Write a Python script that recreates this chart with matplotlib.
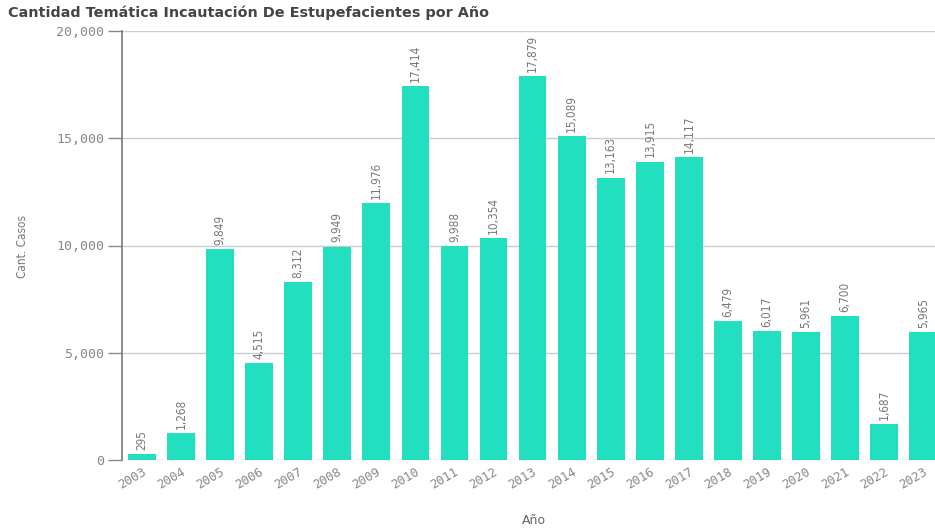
import matplotlib
matplotlib.use("Agg")
import matplotlib.pyplot as plt

years = ["2003","2004","2005","2006","2007","2008","2009","2010","2011","2012","2013",
         "2014","2015","2016","2017","2018","2019","2020","2021","2022","2023"]
values = [295,1268,9849,4515,8312,9949,11976,17414,9988,10354,17879,
          15089,13163,13915,14117,6479,6017,5961,6700,1687,5965]
yticks = [0, 5000, 10000, 15000, 20000]

W, H = 935, 529
fig = plt.figure(figsize=(W/100, H/100), dpi=100)
ax = fig.add_axes([122/W, 1-460/H, (W-122)/W, (460-31)/H])

x = list(range(len(years)))
ax.bar(x, values, width=0.71, color="#22E0BF", zorder=2)

ax.set_xlim(-0.51, 20.3)
ax.set_ylim(0, 20000)
ax.set_yticks(yticks)
ax.set_yticklabels([f"{v:,}" for v in yticks], family="DejaVu Sans Mono", fontsize=9.5, color="#888888")
ax.set_xticks(x)
ax.set_xticklabels(years, rotation=30, ha="right", rotation_mode="anchor",
                   family="DejaVu Sans Mono", fontsize=9, color="#888888")
ax.tick_params(axis="x", length=0, pad=4)
ax.tick_params(axis="y", length=10, width=1, color="#888888", pad=3)

for s in ["top", "right", "bottom"]:
    ax.spines[s].set_visible(False)
ax.spines["left"].set_color("#777777")
ax.spines["left"].set_linewidth(1.2)

ax.grid(axis="y", color="#cccccc", linewidth=1, zorder=0)
ax.set_axisbelow(True)

for xi, v in zip(x, values):
    ax.annotate(f"{v:,}", (xi, v), xytext=(0, 3), textcoords="offset points",
                rotation=90, ha="center", va="bottom", fontsize=8.5,
                fontstretch="condensed", color="#777777", family="DejaVu Sans")

fig.text(8/W, 1-13/H, "Cantidad Temática Incautación De Estupefacientes por Año",
         fontsize=10.4, fontweight="bold", color="#444444", ha="left", va="center")
fig.text(534/W, 1-520/H, "Año", fontsize=9, color="#666666", ha="center", va="center")
fig.text(22/W, 1-247/H, "Cant. Casos", fontsize=8.5, color="#777777", rotation=90,
         ha="center", va="center", fontstretch="condensed")

fig.savefig("out.png", dpi=100)
